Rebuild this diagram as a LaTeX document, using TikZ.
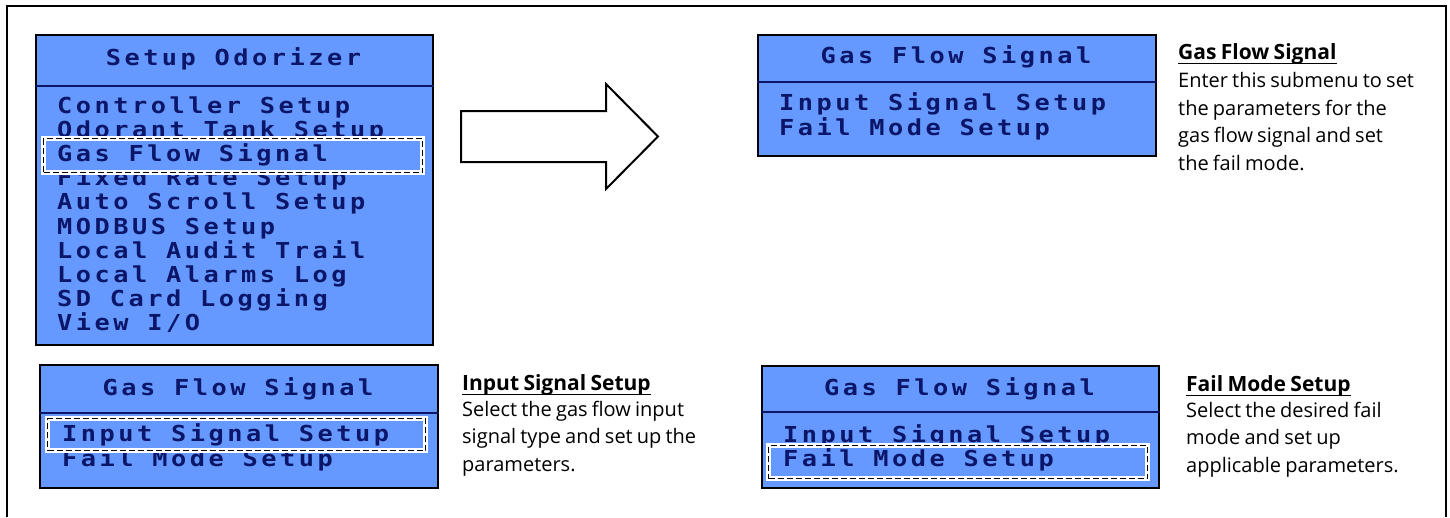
\documentclass[tikz,border=0pt]{standalone}
\usepackage{fontspec}
\newfontfamily\lcdfont[FakeStretch=1.15, LetterSpace=16]{DejaVu Sans Mono}
\newfontfamily\descfont[WordSpace=0.8]{Open Sans}
\definecolor{lcdblue}{RGB}{102,153,255}
\definecolor{lcdnavy}{RGB}{12,22,105}

\tikzset{
  menubox/.style={draw=black, line width=2.2pt, fill=lcdblue, inner sep=0pt, anchor=north west},
  divider/.style={draw=lcdnavy, line width=1.8pt},
  lcdline/.style={anchor=base west, inner sep=0pt, text=lcdnavy,
    font=\lcdfont\bfseries\fontsize{22}{24}\selectfont},
  lcdhead/.style={lcdline, anchor=base},
  pickbox/.style={fill=lcdblue, draw=white, line width=5pt, inner sep=0pt, anchor=north west,
    postaction={draw=black, line width=1.6pt, dash pattern=on 6pt off 3pt}},
  desctitle/.style={anchor=base west, inner sep=0pt,
    font=\descfont\bfseries\fontsize{21}{27.5}\selectfont},
  % multi-line body: the base anchor sits on the last line
  descbody/.style={anchor=base west, inner sep=0pt, align=left,
    font=\descfont\fontsize{20}{27.5}\selectfont},
  uline/.style={line width=1.6pt},
  bigarrow/.style={draw=black, line width=2pt, fill=white, line join=miter}
}

\begin{document}
\begin{tikzpicture}[x=1pt, y=-1pt]
\useasboundingbox (0,0) rectangle (1450,517);

% outer frame, open at the bottom
\draw[line width=2pt] (7,517) -- (7,6) -- (1446,6) -- (1446,517);

% ---------- main setup menu ----------
\node[menubox, minimum width=397pt, minimum height=310pt] (setup) at (35,34) {};
\draw[divider] (setup.west |- 0,86) -- (setup.east |- 0,86);
\node[lcdhead] (setuphead) at (233.5,65) {Setup Odorizer};
\node[lcdline] (m1) at (57,113) {Controller Setup};
\node[lcdline] (m2) at (57,137) {Odorant Tank Setup};
\node[lcdline] (m4) at (57,185) {Fixed Rate Setup};
\node[lcdline] (m5) at (57,209) {Auto Scroll Setup};
\node[lcdline] (m6) at (57,234) {MODBUS Setup};
\node[lcdline] (m7) at (57,258) {Local Audit Trail};
\node[lcdline] (m8) at (57,282) {Local Alarms Log};
\node[lcdline] (m9) at (57,306) {SD Card Logging};
\node[lcdline] (m10) at (57,330) {View I/O};
\node[pickbox, minimum width=379pt, minimum height=34pt] (pick1) at (41,136) {};
\node[lcdline] (m3) at (57,161) {Gas Flow Signal};

% ---------- block arrow ----------
\draw[bigarrow] (461,111) -- (606,111) -- (606,84) -- (658,136.5)
  -- (606,189) -- (606,162) -- (461,162) -- cycle;

% ---------- gas flow signal submenu ----------
\node[menubox, minimum width=398pt, minimum height=121pt] (gfs) at (757,34) {};
\draw[divider] (gfs.west |- 0,82) -- (gfs.east |- 0,82);
\node[lcdhead] (gfshead) at (956,63) {Gas Flow Signal};
\node[lcdline] (g1) at (779,110) {Input Signal Setup};
\node[lcdline] (g2) at (779,135) {Fail Mode Setup};

\node[desctitle] (t1) at (1178,59) {Gas Flow Signal};
\draw[uline] ([yshift=-4.5pt]t1.base west) -- ([yshift=-4.5pt]t1.base east);
\node[descbody] (b1) at (1178,170) {Enter this submenu to set\\the parameters for the\\gas flow signal and set\\the fail mode.};

% ---------- input signal setup selected ----------
\node[menubox, minimum width=398pt, minimum height=123pt] (inp) at (39,364) {};
\draw[divider] (inp.west |- 0,413) -- (inp.east |- 0,413);
\node[lcdhead] (inphead) at (238,395) {Gas Flow Signal};
\node[lcdline] (i2) at (62,466) {Fail Mode Setup};
\node[pickbox, minimum width=378pt, minimum height=32pt] (pick2) at (45,416) {};
\node[lcdline] (i1) at (62,441) {Input Signal Setup};

\node[desctitle] (t2) at (462,390) {Input Signal Setup};
\draw[uline] ([yshift=-4.5pt]t2.base west) -- ([yshift=-4.5pt]t2.base east);
\node[descbody] (b2) at (462,471) {Select the gas flow input\\signal type and set up the\\parameters.};

% ---------- fail mode setup selected ----------
\node[menubox, minimum width=397pt, minimum height=122pt] (fail) at (761,365) {};
\draw[divider] (fail.west |- 0,412) -- (fail.east |- 0,412);
\node[lcdhead] (failhead) at (959.5,395) {Gas Flow Signal};
\node[lcdline] (f1) at (783,442) {Input Signal Setup};
\node[pickbox, minimum width=379pt, minimum height=33pt] (pick3) at (766,443) {};
\node[lcdline] (f2) at (783,466) {Fail Mode Setup};

\node[desctitle] (t3) at (1186,391) {Fail Mode Setup};
\draw[uline] ([yshift=-4.5pt]t3.base west) -- ([yshift=-4.5pt]t3.base east);
\node[descbody] (b3) at (1186,472) {Select the desired fail\\mode and set up\\applicable parameters.};
\end{tikzpicture}
\end{document}
